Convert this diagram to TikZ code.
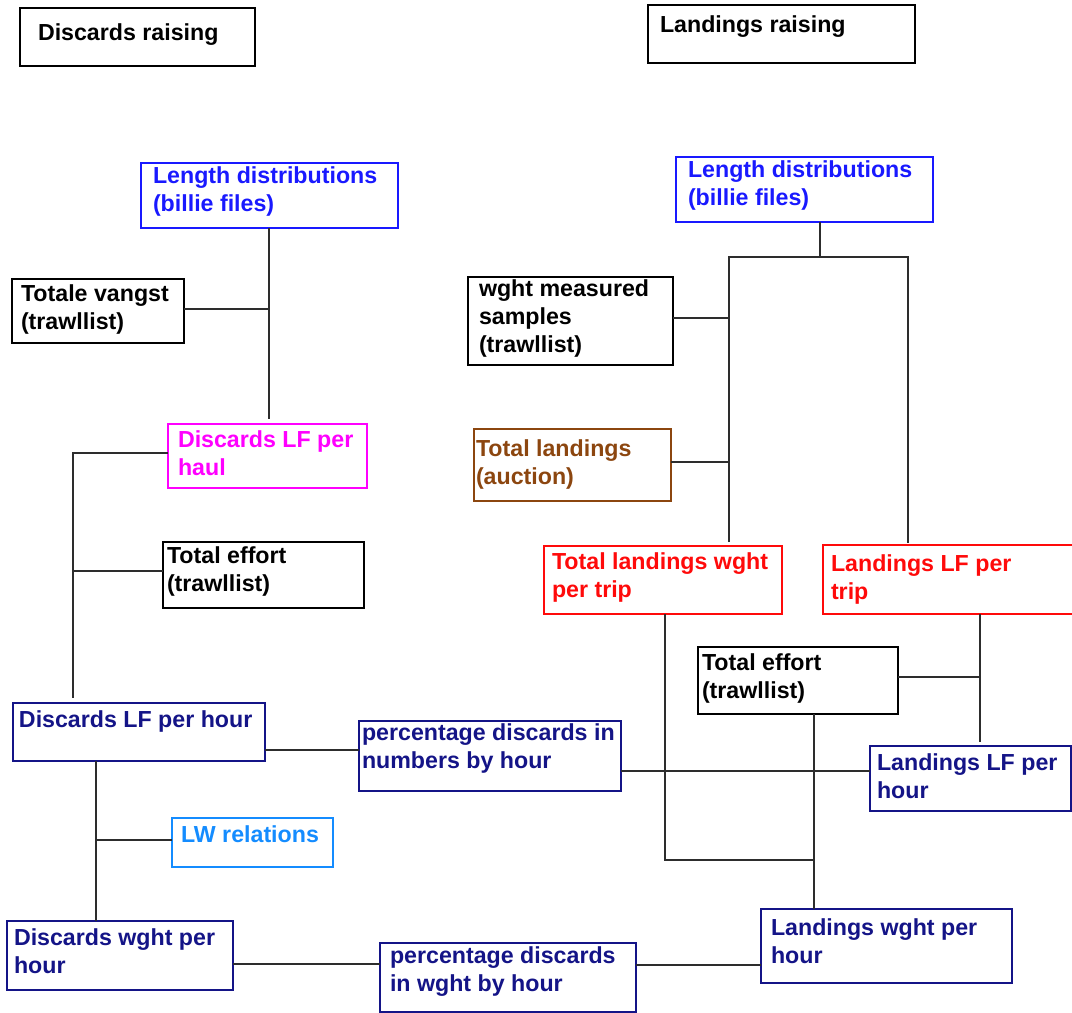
\documentclass[tikz,border=0pt]{standalone}
\usepackage{fontspec}
\setmainfont{Liberation Sans}
\definecolor{cblue}{RGB}{25,25,255}
\definecolor{cnavy}{RGB}{20,20,135}
\definecolor{cmag}{RGB}{255,0,255}
\definecolor{cred}{RGB}{255,10,10}
\definecolor{cbrown}{RGB}{140,70,15}
\definecolor{clight}{RGB}{20,140,255}
\definecolor{cblack}{RGB}{0,0,0}
\definecolor{linec}{RGB}{45,45,45}
% #1 name, #2 x1, #3 y1, #4 x2, #5 y2, #6 colour, #7 text x, #8 first baseline y, #9 text
\newcommand\bx[9]{%
  \node[box, draw=#6, minimum width={(#4-#2)*1pt}, minimum height={(#5-#3)*1pt}] (#1) at (#2,#3) {};
  \node[txt, text=#6] (#1t) at (#7,#8-19.6) {\strut #9};
}
\begin{document}
\begin{tikzpicture}[x=1pt,y=-1pt,
  box/.style={line width=1.3pt, inner sep=0pt, outer sep=0pt, anchor=north west},
  txt/.style={inner sep=0pt, outer sep=0pt, anchor=north west, align=left, font=\fontsize{23.2}{28}\selectfont\bfseries},
  conn/.style={draw=linec, line width=1.3pt}]
\useasboundingbox (0,0) rectangle (1072,1013);

% titles
\bx{dr}{20}{8}{255}{66}{cblack}{38}{40}{Discards raising}
\bx{lr}{648}{5}{915}{63}{cblack}{660}{32}{Landings raising}

% left (discards) side
\bx{ldA}{141}{163}{398}{228}{cblue}{153}{183}{Length distributions\\(billie files)}
\bx{tv}{12}{279}{184}{343}{cblack}{21}{301}{Totale vangst\\(trawllist)}
\bx{dlfh}{168}{424}{367}{488}{cmag}{178}{447}{Discards LF per\\haul}
\bx{teA}{163}{542}{364}{608}{cblack}{167}{563}{Total effort\\(trawllist)}
\bx{dlfhr}{13}{703}{265}{761}{cnavy}{19}{727}{Discards LF per hour}
\bx{pn}{359}{721}{621}{791}{cnavy}{362}{740}{percentage discards in\\numbers by hour}
\bx{lw}{172}{818}{333}{867}{clight}{181}{842}{LW relations}
\bx{dwh}{7}{921}{233}{990}{cnavy}{14}{945}{Discards wght per\\hour}
\bx{pw}{380}{943}{636}{1012}{cnavy}{390}{963}{percentage discards\\in wght by hour}

% right (landings) side
\bx{ldB}{676}{157}{933}{222}{cblue}{688}{177}{Length distributions\\(billie files)}
\bx{wms}{468}{277}{673}{365}{cblack}{479}{296}{wght measured\\samples\\(trawllist)}
\bx{tla}{474}{429}{671}{501}{cbrown}{476}{456}{Total landings\\(auction)}
\bx{tlwt}{544}{546}{782}{614}{cred}{552}{569}{Total landings wght\\per trip}
\bx{llft}{823}{545}{1080}{614}{cred}{831}{571}{Landings LF per\\trip}
\bx{teB}{698}{647}{898}{714}{cblack}{702}{670}{Total effort\\(trawllist)}
\bx{llfhr}{870}{746}{1071}{811}{cnavy}{877}{770}{Landings LF per\\hour}
\bx{lwh}{761}{909}{1012}{983}{cnavy}{771}{935}{Landings wght per\\hour}

% junction coordinates
\coordinate (lx) at (73,453);
\coordinate (lx2) at (96,0);
\coordinate (cx) at (269,0);
\coordinate (rj) at (820,257);
\coordinate (rl) at (729,0);
\coordinate (rr) at (908,0);
\coordinate (vx) at (814,0);
\coordinate (tx) at (665,0);
\coordinate (ex) at (980,0);

% left connectors
\draw[conn] (ldA.south -| cx) -- ([yshift=5pt]dlfh.north -| cx);
\draw[conn] (tv.east |- 0,309) -- (cx |- 0,309);
\draw[conn] (dlfh.west |- lx) -- (lx) -- ([yshift=5pt]dlfhr.north -| lx);
\draw[conn] (teA.west |- 0,571) -- (lx |- 0,571);
\draw[conn] (dlfhr.east |- 0,750) -- (pn.west |- 0,750);
\draw[conn] (lx2 |- dlfhr.south) -- (lx2 |- dwh.north);
\draw[conn] (lw.west |- 0,840) -- (lx2 |- 0,840);
\draw[conn] (dwh.east |- 0,964) -- (pw.west |- 0,964);

% right connectors
\draw[conn] (ldB.south -| rj) -- (rj);
\draw[conn] ([yshift=4pt]tlwt.north -| rl) |- (rj) -| ([yshift=2pt]llft.north -| rr);
\draw[conn] (wms.east |- 0,318) -- (rl |- 0,318);
\draw[conn] (tla.east |- 0,462) -- (rl |- 0,462);
\draw[conn] (pn.east |- 0,771) -- (llfhr.west |- 0,771);
\draw[conn] (tlwt.south -| tx) |- (vx |- 0,860);
\draw[conn] (teB.south -| vx) -- (lwh.north -| vx);
\draw[conn] (llft.south -| ex) -- ([yshift=4pt]llfhr.north -| ex);
\draw[conn] (teB.east |- 0,677) -- (ex |- 0,677);
\draw[conn] (pw.east |- 0,965) -- (lwh.west |- 0,965);
\end{tikzpicture}
\end{document}
